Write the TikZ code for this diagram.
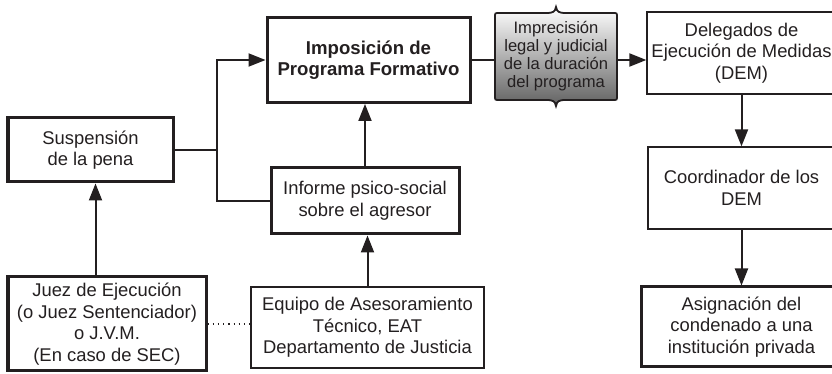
\documentclass[tikz,border=0pt]{standalone}
\usepackage{fontspec}
\setmainfont{Liberation Sans}
\usetikzlibrary{arrows.meta}
\definecolor{ink}{RGB}{35,31,32}

\begin{document}
\begin{tikzpicture}[x=0.5pt,y=-0.5pt]
            \tikzstyle{box}=[rectangle,draw=ink,text=ink,align=center,inner sep=0pt,font=\fontsize{9.2}{10.8}\selectfont]
            \tikzstyle{link}=[draw=ink,line width=1pt]
            \tikzstyle{arr}=[link,-{Triangle[length=8.5pt,width=6.5pt]}]

            \tikzstyle{B}=[box,line width=1.5pt]    % thick frame
            \tikzstyle{T}=[box,line width=0.65pt]   % thin frame

            \useasboundingbox (0,0) rectangle (832,374);
            \clip (0,0) rectangle (832,374);

            \node[B,minimum width=82.5pt,minimum height=32pt] (susp) at (90.5,150) {Suspensión\\de la pena};
            \node[B,minimum width=99pt,minimum height=47pt] (juez) at (107,324) {Juez de Ejecución\\(o Juez Sentenciador)\\o J.V.M.\\(En caso de SEC)};
            \node[T,minimum width=116.5pt,minimum height=40.5pt] (equipo) at (367.5,327.5) {Equipo de Asesoramiento\\Técnico, EAT\\Departamento de Justicia};
            \node[B,minimum width=94pt,minimum height=33pt] (informe) at (365,201) {Informe psico-social\\sobre el agresor};
            \node[B,minimum width=101.5pt,minimum height=42.5pt,font=\fontsize{9.3}{10.3}\selectfont\bfseries] (impos) at (368.5,60) {Imposición de\\Programa Formativo};

            % shaded scroll
            \draw[draw=ink,line width=0.9pt,top color=white,middle color=black!7,bottom color=black!62]
                (495,56) -- (495,17) .. controls (495,13) .. (499,13) -- (546,13)
                .. controls (553,13) and (555,12) .. (556,7) .. controls (557,12) and (559,13) .. (566,13)
                -- (613,13) .. controls (617,13) .. (617,17) -- (617,96) .. controls (617,100) .. (613,100)
                -- (566,100) .. controls (559,100) and (557,101) .. (556,106)
                .. controls (555,101) and (553,100) .. (546,100) -- (499,100) .. controls (495,100) .. (495,96) -- cycle;
            \node[rectangle,text=ink,align=center,inner sep=0pt,minimum width=61pt,minimum height=43.5pt,font=\fontsize{8.3}{9}\selectfont] (imprec) at (556,56.5) {Imprecisión\\legal y judicial\\de la duración\\del programa};

            \node[T,minimum width=94.5pt,minimum height=41pt] (deleg) at (741.5,53) {Delegados de\\Ejecución de Medidas\\(DEM)};
            \node[T,minimum width=93.5pt,minimum height=41pt] (coord) at (741.5,188) {Coordinador de los\\DEM};
            \node[B,minimum width=100.5pt,minimum height=40pt] (asign) at (741.5,327) {Asignación del\\condenado a una\\institución privada};

            \coordinate (jx) at (217,0);

            \draw[arr] ([xshift=2.5pt]susp.south |- juez.north) -- ([xshift=2.5pt]susp.south);
            \draw[link,line width=0.6pt,dotted] (juez.east) -- (juez.east -| equipo.west);
            \draw[arr] (equipo.north) -- (equipo.north |- informe.south);
            \draw[arr] (informe.north) -- (informe.north |- impos.south);
            \draw[link] (susp.east) -- (susp.east -| jx);
            \draw[arr] (informe.west) -- (informe.west -| jx) |- (impos.west);
            \draw[link] (impos.east) -- (impos.east -| imprec.west);
            \draw[arr] (impos.east -| imprec.east) -- (impos.east -| deleg.west);
            \draw[arr] (deleg.south) -- (coord.north);
            \draw[arr] (coord.south) -- (asign.north);
        \end{tikzpicture}
\end{document}
